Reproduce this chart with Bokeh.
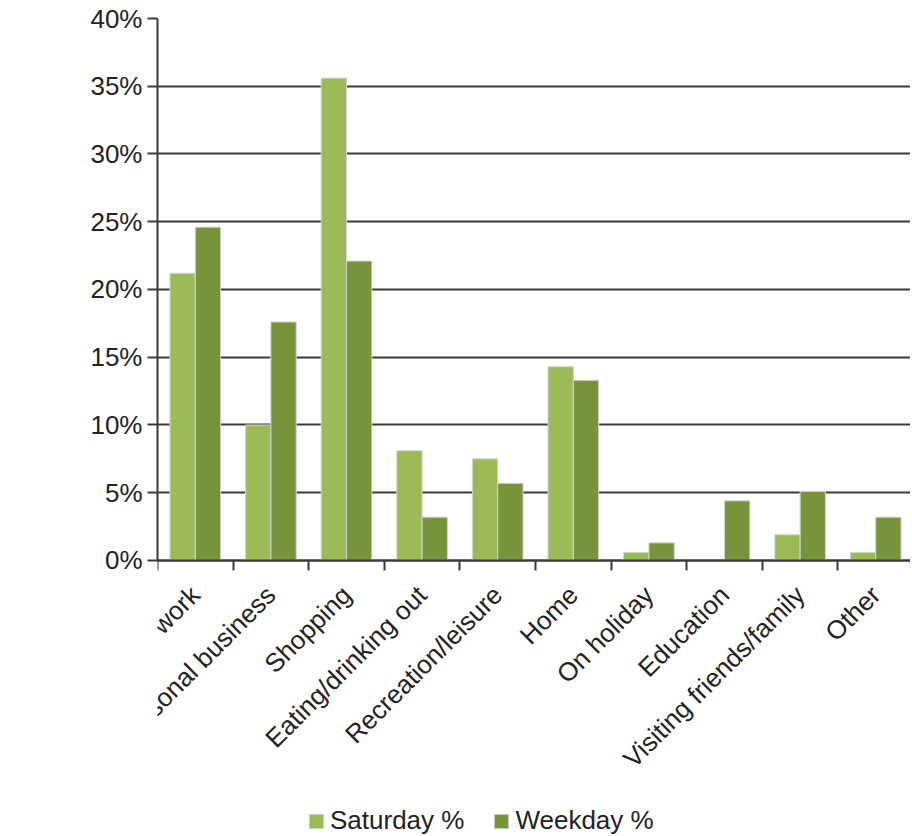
import numpy as np
from bokeh.plotting import figure
from bokeh.models import (ColumnDataSource, Range1d, LinearAxis, FixedTicker,
                          PrintfTickFormatter, Legend, LegendItem)
from bokeh.transform import dodge
from bokeh.embed import file_html
from bokeh.resources import INLINE

categories = ["Normal place of work", "Personal business", "Shopping",
              "Eating/drinking out", "Recreation/leisure", "Home", "On holiday",
              "Education", "Visiting friends/family", "Other"]
saturday = [21.2, 10.0, 35.6, 8.1, 7.5, 14.3, 0.6, 0.0, 1.9, 0.6]
weekday = [24.6, 17.6, 22.1, 3.2, 5.7, 13.3, 1.3, 4.4, 5.1, 3.2]
y_ticks = [0, 5, 10, 15, 20, 25, 30, 35, 40]

FONT = "Liberation Sans"
FS = "26px"
SAT_COLOR = "#9BBB59"
WK_COLOR = "#77933C"
AXIS_COLOR = "#3a3a3a"
TEXT_COLOR = "#222222"

idx = np.arange(len(categories))
source = ColumnDataSource(dict(x=idx + 0.5, cat=categories, sat=saturday, wk=weekday))

# frame extends below 0 so that the legend lives inside it
p = figure(frame_width=753, frame_height=818, output_backend="svg", toolbar_location=None,
           x_range=Range1d(0, 9.96), y_range=Range1d(-20.37, 40),
           x_axis_type=None, min_border_left=157, min_border_right=0,
           min_border_top=18, min_border_bottom=0)
p.outline_line_color = None
p.background_fill_color = "white"
p.border_fill_color = "white"

bw = 0.335
r_sat = p.vbar(x=dodge("x", -bw / 2), top="sat", bottom=0, width=bw, source=source,
               fill_color=SAT_COLOR, line_color="#d4d4d4", line_width=1)
r_wk = p.vbar(x=dodge("x", bw / 2), top="wk", bottom=0, width=bw, source=source,
              fill_color=WK_COLOR, line_color="#d4d4d4", line_width=1)

# y axis
yax = p.yaxis[0]
yax.ticker = FixedTicker(ticks=y_ticks)
yax.bounds = (0, 40)
yax.formatter = PrintfTickFormatter(format="%d%%")
yax.major_label_text_font = FONT
yax.major_label_text_font_size = FS
yax.major_label_text_color = TEXT_COLOR
yax.axis_line_color = AXIS_COLOR
yax.axis_line_width = 2
yax.major_tick_line_color = AXIS_COLOR
yax.major_tick_line_width = 2
yax.major_tick_out = 10
yax.major_tick_in = 0
yax.minor_tick_line_color = None
yax.major_label_standoff = 5

p.ygrid.ticker = FixedTicker(ticks=y_ticks)
p.ygrid.grid_line_color = AXIS_COLOR
p.ygrid.grid_line_width = 2
p.xgrid.visible = False

# x axis at y = 0 with ticks on the category boundaries
bound_ticks = list(range(len(categories) + 1))
xa = LinearAxis(ticker=FixedTicker(ticks=bound_ticks), fixed_location=0,
                major_label_overrides={t: "" for t in bound_ticks},
                axis_line_color=AXIS_COLOR, axis_line_width=2,
                major_tick_line_color=AXIS_COLOR, major_tick_line_width=2,
                major_tick_out=10, major_tick_in=0,
                minor_tick_line_color=None,
                major_label_text_font_size="1px", major_label_standoff=0)
p.add_layout(xa, "below")

# category labels at the centres, drawn from y = 0
centers = list(idx + 0.5)
xl = LinearAxis(ticker=FixedTicker(ticks=centers), fixed_location=0,
                major_label_overrides={float(c): categories[i] for i, c in enumerate(centers)},
                axis_line_color=None, major_tick_line_color=None,
                minor_tick_line_color=None, major_tick_out=0, major_tick_in=0,
                major_label_orientation=np.pi / 4,
                major_label_text_font=FONT, major_label_text_font_size=FS,
                major_label_text_color=TEXT_COLOR, major_label_standoff=30)
p.add_layout(xl, "below")

legend = Legend(items=[LegendItem(label="Saturday %", renderers=[r_sat]),
                       LegendItem(label="Weekday %", renderers=[r_wk])],
                orientation="horizontal", location=(150, 0),
                label_text_font=FONT, label_text_font_size=FS,
                label_text_color=TEXT_COLOR,
                glyph_width=18, glyph_height=18, spacing=28, label_standoff=5,
                border_line_color=None, padding=0, margin=0,
                background_fill_alpha=0)
p.add_layout(legend, "center")

open("out.html", "w").write(file_html(p, INLINE))
